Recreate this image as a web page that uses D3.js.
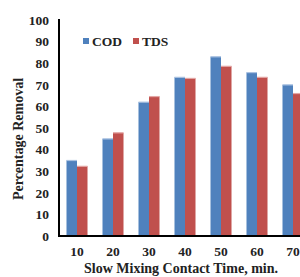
<!DOCTYPE html>
<html><head><meta charset="utf-8">
<script src="https://cdn.jsdelivr.net/npm/d3@7"></script>
<style>body{margin:0;background:#fff}svg{display:block}</style>
</head><body>
<script>
const categories = ["10","20","30","40","50","60","70"];
const seriesNames = ["COD","TDS"];
const cod = [35, 45, 62, 73.5, 83, 75.7, 70];
const tds = [32.3, 47.8, 64.6, 73, 78.6, 73.5, 66];
const yTicks = [0,10,20,30,40,50,60,70,80,90,100];
const colors = ["#4F81BD","#C0504D"];
const lightColors = ["#A9C1E1","#E3A6A4"];

const W = 300, H = 277;
const svg = d3.select("body").append("svg").attr("width", W).attr("height", H);
const font = "Liberation Serif, Times New Roman, serif";

const x = d3.scaleBand().domain(categories).range([59, 311]).paddingInner(0).paddingOuter(0);
const y = d3.scaleLinear().domain([0,100]).range([236, 20]);
const barW = 10.5;

const data = categories.map((c,i)=>({c, v:[cod[i], tds[i]]}));
data.forEach(d=>{
  d.v.forEach((v,j)=>{
    const cx = x(d.c) + x.bandwidth()/2;
    const bx = cx - barW + j*barW;
    svg.append("rect").attr("x", bx).attr("y", y(v)).attr("width", barW).attr("height", y(0)-y(v)).attr("fill", colors[j]);
    svg.append("rect").attr("x", bx).attr("y", y(v)-0.5).attr("width", barW).attr("height", 1.2).attr("fill", lightColors[j]);
  });
});

// y axis
const yAxis = d3.axisLeft(y).tickValues(yTicks).tickSize(0).tickPadding(10);
const gy = svg.append("g").attr("transform","translate(59,0)").call(yAxis);
gy.select(".domain").remove();
gy.selectAll("text").attr("font-family", font).attr("font-weight","bold").attr("font-size","13.5px").attr("fill","#222");
svg.append("line").attr("x1",59).attr("x2",59).attr("y1",y(100)-1).attr("y2",y(0)+1).attr("stroke","#000").attr("stroke-width",2);

// x axis
const xAxis = d3.axisBottom(x).tickSize(0).tickPadding(10);
const gx = svg.append("g").attr("transform","translate(0,236)").call(xAxis);
gx.select(".domain").remove();
gx.selectAll("text").attr("font-family", font).attr("font-weight","bold").attr("font-size","13.5px").attr("fill","#222");
svg.append("line").attr("x1",58).attr("x2",311).attr("y1",236).attr("y2",236).attr("stroke","#000").attr("stroke-width",2);

// titles
svg.append("text").attr("x",181).attr("y",273).attr("text-anchor","middle")
  .attr("font-family",font).attr("font-weight","bold").attr("font-size","14px").attr("fill","#222")
  .text("Slow Mixing Contact Time, min.");
svg.append("text").attr("transform","translate(23,139) rotate(-90)").attr("text-anchor","middle")
  .attr("font-family",font).attr("font-weight","bold").attr("font-size","14px").attr("fill","#222")
  .text("Percentage Removal");

// legend
const leg = svg.append("g");
const legX = [83, 133];
seriesNames.forEach((n,j)=>{
  leg.append("rect").attr("x",legX[j]).attr("y",38).attr("width",6).attr("height",6).attr("fill",colors[j]);
  leg.append("text").attr("x",legX[j]+9).attr("y",46).attr("font-family",font).attr("font-weight","bold")
    .attr("font-size","13.5px").attr("fill","#222").text(n);
});
</script>
</body></html>
